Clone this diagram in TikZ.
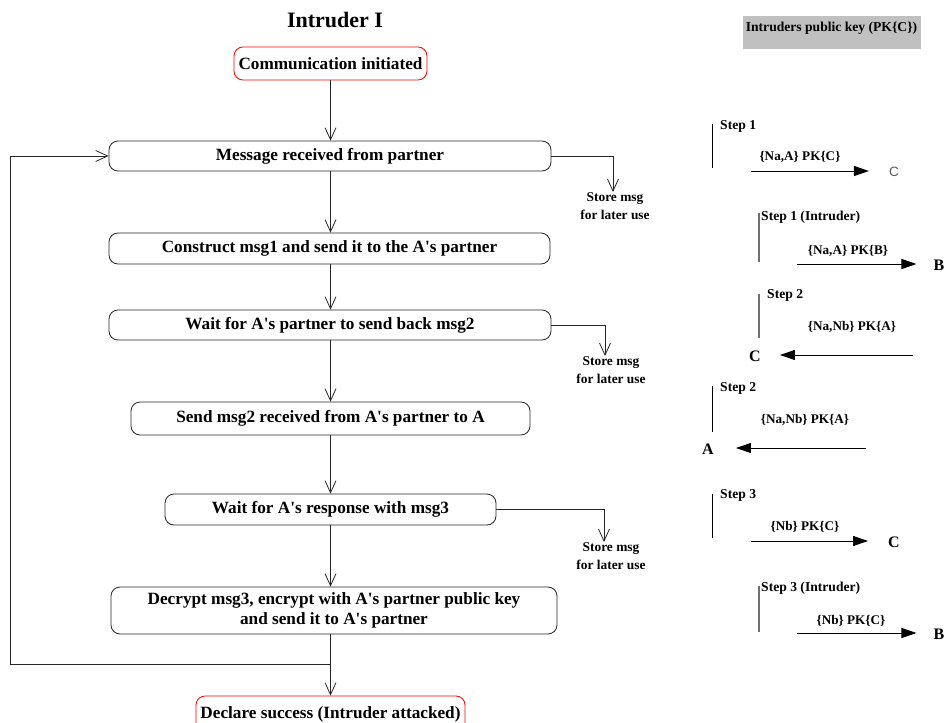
\documentclass[tikz,border=0pt]{standalone}
\usepackage{fontspec}
\setmainfont{Liberation Serif}[Ligatures=TeXOff]
\newfontfamily\plainsans{Liberation Sans}
\usetikzlibrary{arrows.meta}
\definecolor{keygray}{HTML}{C0C0C0}
\definecolor{bargray}{HTML}{707070}
\begin{document}
\begin{tikzpicture}[x=1pt,y=-1pt,
  flowbox/.style={draw=black!85, line width=0.8pt, rounded corners=9pt, inner sep=0pt,
    font=\fontsize{17.2}{20}\selectfont\bfseries, align=center},
  termbox/.style={flowbox, draw=red},
  link/.style={draw=black!85, line width=0.8pt, -{Straight Barb[length=12pt,width=11pt]}},
  plainline/.style={draw=black!85, line width=0.8pt},
  storetext/.style={font=\fontsize{13.4}{18.5}\selectfont\bfseries, align=center, inner sep=0pt, anchor=north},
  steptext/.style={font=\fontsize{13.6}{15}\selectfont\bfseries, inner sep=0pt, anchor=north west},
  msgtext/.style={font=\fontsize{13.2}{15}\selectfont\bfseries, inner sep=0pt},
  party/.style={font=\fontsize{16}{18}\selectfont\bfseries, inner sep=0pt},
  msgarrow/.style={draw=black, line width=1pt, -{Triangle[length=15pt,width=10pt]}},
  stepbar/.style={draw=black, line width=1pt},
  stepbargray/.style={draw=bargray, line width=1.6pt}]
\clip (0,0) rectangle (946,723);
\useasboundingbox (0,0) rectangle (946,723);

% ---------- flow chart ----------
\node[font=\fontsize{22}{25}\selectfont\bfseries] (title) at (335,20) {Intruder I};

\node[termbox, minimum width=193pt, minimum height=33pt] (start) at (330.5,63.5) {Communication initiated};
\node[flowbox, minimum width=442pt, minimum height=30pt] (recv) at (330,156) {Message received from partner};
\node[flowbox, minimum width=441pt, minimum height=31pt] (msg1) at (329.5,248.5) {Construct msg1 and send it to the A's partner};
\node[flowbox, minimum width=442pt, minimum height=30pt] (wait2) at (330,325) {Wait for A's partner to send back msg2};
\node[flowbox, minimum width=399pt, minimum height=33pt] (fwd2) at (330.5,418.5) {Send msg2 received from A's partner to A};
\node[flowbox, minimum width=331pt, minimum height=31pt] (wait3) at (330.5,509.5) {Wait for A's response with msg3};
\node[flowbox, minimum width=446pt, minimum height=47pt] (dec3) at (334,610.5) {Decrypt msg3, encrypt with A's partner public key\\and send it to A's partner};
\node[termbox, minimum width=269pt, minimum height=36pt] (done) at (330.5,714) {Declare success (Intruder attacked)};

\draw[link] (start.south) -- (start.south |- recv.north);
\draw[link] (recv.south -| start.south) -- (start.south |- msg1.north);
\draw[link] (msg1.south -| start.south) -- (start.south |- wait2.north);
\draw[link] (wait2.south -| start.south) -- (start.south |- fwd2.north);
\draw[link] (fwd2.south -| start.south) -- (start.south |- wait3.north);
\draw[link] (wait3.south -| start.south) -- (start.south |- dec3.north);
\draw[link] (dec3.south -| start.south) -- (start.south |- done.north);

% loop back to the first step
\coordinate (loopjoin) at (start.south |- 0,664);
\coordinate (loopleft) at (10,664);
\draw[plainline] (loopjoin) -- (loopleft);
\draw[link] (loopleft) |- (recv.west);

% side branches
\node[storetext] (store1) at (615,192) {Store msg\\for later use};
\node[storetext] (store2) at (611,356) {Store msg\\for later use};
\node[storetext] (store3) at (611,542) {Store msg\\for later use};
\draw[link] (recv.east) -| (613,192);
\draw[link] (wait2.east) -| (605,356);
\draw[link] (wait3.east) -| (604,542);

% ---------- message sequence ----------
\node[fill=keygray, minimum width=178pt, minimum height=33pt, inner sep=0pt] (keybox) at (832,32.5) {};
\node[font=\fontsize{13.6}{15}\selectfont\bfseries, inner sep=0pt] (keytext) at (831.5,28.5) {Intruders public key (PK\{C\})};

% Step 1
\draw[stepbar] (712,124) -- (712,168);
\node[steptext] (st1) at (720,120) {Step 1};
\node[msgtext] (m1) at (800,157) {\{Na,A\} PK\{C\}};
\node[font=\fontsize{13.5}{15}\selectfont\plainsans, text=black!65, inner sep=0pt] (p1) at (894,172) {C};
\coordinate (a1) at (751,171);
\draw[msgarrow, shorten >=20pt] (a1) -- (a1 -| p1.west);

% Step 1 (Intruder)
\draw[stepbargray] (759,213) -- (759,262);
\node[steptext] (st1i) at (761,211) {Step 1 (Intruder)};
\node[msgtext] (m1i) at (848,251) {\{Na,A\} PK\{B\}};
\node[party] (p2) at (939,265) {B};
\coordinate (a2) at (797,264);
\draw[msgarrow, shorten >=17pt] (a2) -- (a2 -| p2.west);

% Step 2
\draw[stepbargray] (759,294) -- (759,338);
\node[steptext] (st2) at (767,289) {Step 2};
\node[msgtext] (m2) at (852,327) {\{Na,Nb\} PK\{A\}};
\node[party] (p3) at (755,356) {C};
\coordinate (a3) at (913,355);
\draw[msgarrow, shorten >=19pt] (a3) -- (a3 -| p3.east);

% Step 2, forwarded
\draw[stepbar] (712,386) -- (712,432);
\node[steptext] (st2f) at (720,382) {Step 2};
\node[msgtext] (m2f) at (805,420) {\{Na,Nb\} PK\{A\}};
\node[party] (p4) at (708,449) {A};
\coordinate (a4) at (866,448);
\draw[msgarrow, shorten >=22pt] (a4) -- (a4 -| p4.east);

% Step 3
\draw[stepbar] (712,494) -- (712,538);
\node[steptext] (st3) at (720,489) {Step 3};
\node[msgtext] (m3) at (805,527) {\{Nb\} PK\{C\}};
\node[party] (p5) at (894,542) {C};
\coordinate (a5) at (751,541);
\draw[msgarrow, shorten >=20pt] (a5) -- (a5 -| p5.west);

% Step 3 (Intruder)
\draw[stepbargray] (759,586) -- (759,632);
\node[steptext] (st3i) at (761,582) {Step 3 (Intruder)};
\node[msgtext] (m3i) at (851,621) {\{Nb\} PK\{C\}};
\node[party] (p6) at (939,634) {B};
\coordinate (a6) at (797,633);
\draw[msgarrow, shorten >=17pt] (a6) -- (a6 -| p6.west);
\end{tikzpicture}
\end{document}
